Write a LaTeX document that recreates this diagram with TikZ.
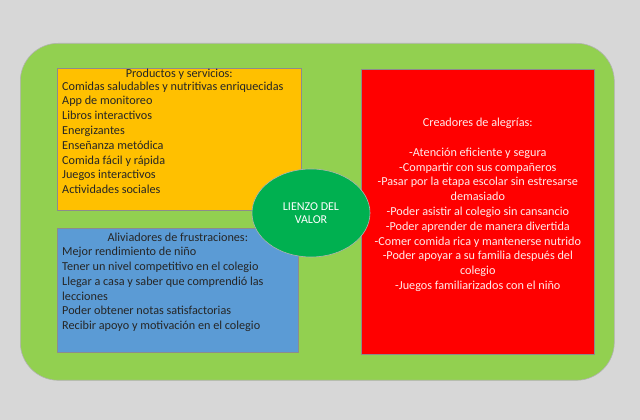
\documentclass[tikz,border=0pt]{standalone}
\usepackage{fontspec}
\setmainfont{Carlito}
\usepackage{xcolor}
\usepackage{tikz}
\usetikzlibrary{shapes.geometric, positioning}
\definecolor{bggray}{HTML}{D7D7D7}
\definecolor{canvasgreen}{HTML}{92D050}
\definecolor{prodyellow}{HTML}{FFC000}
\definecolor{relievblue}{HTML}{5B9BD5}
\definecolor{gainred}{HTML}{FF0000}
\definecolor{hubgreen}{HTML}{00B050}
\definecolor{inkdark}{HTML}{262626}
\tikzstyle{panel} = [rectangle, draw=black!45, line width=0.6pt, inner sep=0pt, anchor=north west]
\tikzstyle{boxtext} = [inner sep=0pt, font=\fontsize{12.2}{14.8}\selectfont]
\tikzstyle{listtext} = [boxtext, align=left, text=inkdark]

\begin{document}
\begin{tikzpicture}[x=1pt, y=1pt]
  \useasboundingbox (0,0) rectangle (640,420);
  \fill[bggray] (0,0) rectangle (640,420);
  \node (canvas) [panel, fill=canvasgreen, draw=black!30, rounded corners=38pt, minimum width=594, minimum height=337] at (20,377) {};
  \node (prod) [panel, fill=prodyellow, minimum width=244, minimum height=142] at (57,352) {};
  \node (reliev) [panel, fill=relievblue, minimum width=241, minimum height=124] at (57,192) {};
  \node (gain) [panel, fill=gainred, minimum width=233, minimum height=285] at (361,351) {};
  \node (hub) [ellipse, fill=hubgreen, draw=black!30, line width=0.6pt, minimum width=118, minimum height=88, align=center, text=white, font=\fontsize{12}{13.6}\selectfont] at (311,207) {LIENZO DEL\\VALOR};
  % yellow panel
  \node (prodtitle) [boxtext, text=inkdark, below=0.5pt of prod.north] {Productos y servicios:};
  \node (prodlist) [listtext, below right=13.5pt and 5pt of prod.north west] {Comidas saludables y nutritivas enriquecidas\\App de monitoreo\\Libros interactivos\\Energizantes\\Enseñanza metódica\\Comida fácil y rápida\\Juegos interactivos\\Actividades sociales};
  % blue panel
  \node (relievtitle) [boxtext, text=inkdark, below=4.5pt of reliev.north] {Aliviadores de frustraciones:};
  \node (relievlist) [listtext, below right=19pt and 5pt of reliev.north west] {Mejor rendimiento de niño\\Tener un nivel competitivo en el colegio\\Llegar a casa y saber que comprendió las\\lecciones\\Poder obtener notas satisfactorias\\Recibir apoyo y motivación en el colegio};
  % red panel
  \node (gainlist) [boxtext, align=center, text=white!92!red, below=49pt of gain.north] {Creadores de alegrías:\\[14.8pt]-Atención eficiente y segura\\-Compartir con sus compañeros\\-Pasar por la etapa escolar sin estresarse\\demasiado\\-Poder asistir al colegio sin cansancio\\-Poder aprender de manera divertida\\-Comer comida rica y mantenerse nutrido\\-Poder apoyar a su familia después del\\colegio\\-Juegos familiarizados con el niño};
\end{tikzpicture}
\end{document}
